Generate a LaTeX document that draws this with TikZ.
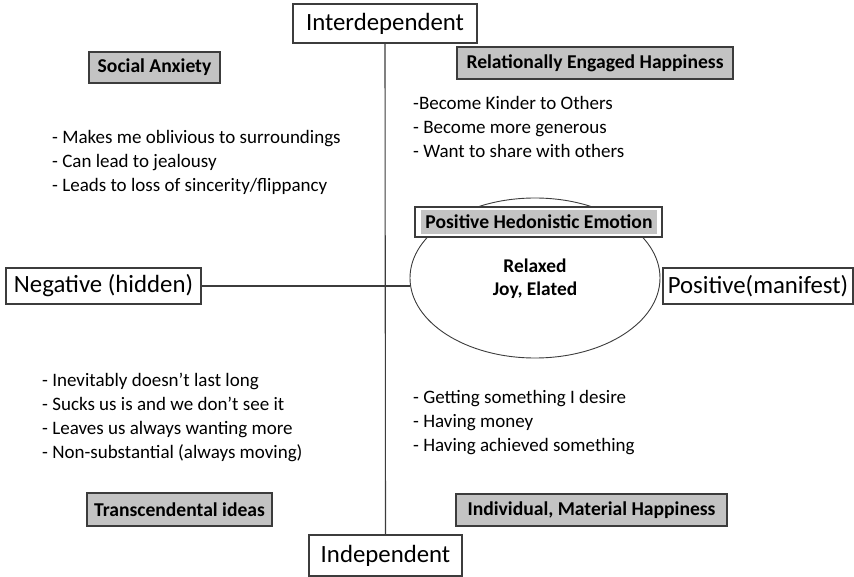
\documentclass[tikz,border=0pt]{standalone}
\usepackage{fontspec}
\setmainfont{Carlito}
\usetikzlibrary{shapes.geometric}
\definecolor{boxgray}{HTML}{C3C3C3}
\definecolor{edgegray}{HTML}{3C3C3C}
\tikzset{
  axisbox/.style={draw=edgegray, line width=1.1pt, fill=white, inner sep=0pt,
    font=\fontsize{24.8}{28}\selectfont},
  tagbox/.style={draw=edgegray, line width=1.3pt, fill=boxgray, inner sep=0pt,
    font=\bfseries\fontsize{19.6}{22}\selectfont},
  listtext/.style={anchor=north west, inner sep=0pt, align=left,
    font=\fontsize{19}{24}\selectfont},
  axisline/.style={draw=edgegray, line width=1.1pt},
}
\begin{document}
\begin{tikzpicture}[x=1pt, y=-1pt]
\useasboundingbox (0,0) rectangle (854,577);

% axis labels
\node[axisbox, minimum width=184, minimum height=39] (inter) at (385,23.5) {Interdependent};
\node[axisbox, minimum width=153, minimum height=41] (indep) at (385.5,555.5) {Independent};
\node[axisbox, minimum width=195, minimum height=36] (neg) at (103.5,286) {Negative (hidden)};
\node[axisbox, minimum width=190, minimum height=36] (pos) at (758,286) {Positive(manifest)};

% central ellipse
\node[ellipse, draw=edgegray, line width=0.9pt, minimum width=250, minimum height=160,
      inner sep=0pt] (ell) at (535,278) {};
\node[align=center, inner sep=0pt, font=\bfseries\fontsize{19.4}{23}\selectfont]
  (ellt) at (535,279) {Relaxed\\Joy, Elated};

% axes
\draw[axisline] (inter.south) -- (indep.north);
\draw[axisline] (neg.east) -- (neg.east -| ell.west);

% quadrant headings
\node[tagbox, minimum width=131, minimum height=31] (social) at (154.5,67.5) {Social Anxiety};
\node[tagbox, minimum width=276, minimum height=32] (relat) at (595,63) {Relationally Engaged Happiness};
\node[tagbox, minimum width=185, minimum height=33] (trans) at (179.5,509.5) {Transcendental ideas};
\node[tagbox, minimum width=271, minimum height=32] (indiv) at (591.5,510) {Individual, Material Happiness};

% heading on the ellipse: white frame with grey band
\node[draw=edgegray, line width=1.3pt, fill=white, minimum width=247, minimum height=30,
      inner sep=0pt] (phebox) at (538.5,222) {};
\node[fill=boxgray, minimum width=236, minimum height=24, inner sep=0pt,
      font=\bfseries\fontsize{19.6}{22}\selectfont] (phe) at (539,222) {Positive Hedonistic Emotion};

% quadrant texts
\node[listtext] (ul) at (52,130) {- Makes me oblivious to surroundings\\- Can lead to jealousy\\- Leads to loss of sincerity/flippancy};
\node[listtext] (ur) at (413,96) {-Become Kinder to Others\\- Become more generous\\- Want to share with others};
\node[listtext] (ll) at (42,373) {- Inevitably doesn’t last long\\- Sucks us is and we don’t see it\\- Leaves us always wanting more\\- Non-substantial (always moving)};
\node[listtext] (lr) at (413,390) {- Getting something I desire\\- Having money\\- Having achieved something};
\end{tikzpicture}
\end{document}
